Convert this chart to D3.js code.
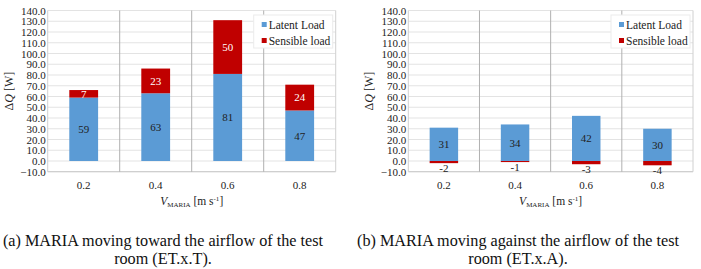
<!DOCTYPE html>
<html>
<head>
<meta charset="utf-8">
<script src="https://cdn.jsdelivr.net/npm/d3@7"></script>
<style>
  html, body { margin: 0; padding: 0; background: #fff; }
  svg { display: block; }
  svg text { font-family: "Liberation Serif", "Times New Roman", serif !important; }
</style>
</head>
<body>
<div id="container"></div>
<script>
const $ = (...args) => document.querySelector(...args);

// data
const speeds = ['0.2', '0.4', '0.6', '0.8'];
const yTicks = d3.range(-10, 141, 10);
const latentT = [59, 63, 81, 47];
const sensibleT = [7, 23, 50, 24];
const latentA = [31, 34, 42, 30];
const sensibleA = [-2, -1, -3, -4];
const seriesNames = ['Latent Load', 'Sensible load'];
const captionsT = ['(a) MARIA moving toward the airflow of the test', 'room (ET.x.T).'];
const captionsA = ['(b) MARIA moving against the airflow of the test', 'room (ET.x.A).'];

const BLUE = '#5b9bd5';
const RED = '#c00000';

const width = 701, height = 269;
const svg = d3.select($('#container'))
    .append('svg')
    .attr('width', width)
    .attr('height', height)
    .attr('viewBox', [0, 0, width, height]);

const drawChart = (left, right, latent, sensible, captions, capX) => {
    const x = d3.scaleBand().domain(speeds).range([left, right]).paddingInner(0).paddingOuter(0);
    const y = d3.scaleLinear().domain([-10, 140]).range([171.75, 10.5]);
    const g = svg.append('g');

    // horizontal grid
    g.append('g').selectAll('line')
        .data(yTicks)
        .join('line')
        .attr('x1', left).attr('x2', right)
        .attr('y1', d => y(d)).attr('y2', d => y(d))
        .attr('stroke', d => d === -10 ? '#bfbfbf' : '#e3e3e3')
        .attr('stroke-width', 1);

    // category separators
    const bounds = speeds.map(s => x(s)).concat([right]);
    g.append('g').selectAll('line')
        .data(bounds)
        .join('line')
        .attr('x1', d => d).attr('x2', d => d)
        .attr('y1', y(140)).attr('y2', y(-10))
        .attr('stroke', (d, i) => (i === 0 || i === bounds.length - 1) ? '#d0d0d0' : '#b0b0b0')
        .attr('stroke-width', 1);

    // y axis labels
    const yAxis = d3.axisLeft(y).tickValues(yTicks).tickFormat(d3.format('.1f')).tickSize(0).tickPadding(2);
    const ya = g.append('g').attr('transform', `translate(${left},0)`).call(yAxis)
        .attr('font-size', 11);
    ya.select('.domain').remove();
    ya.selectAll('text').attr('fill', '#222');

    // x axis labels
    const xAxis = d3.axisBottom(x).tickSize(0).tickPadding(0);
    const xa = g.append('g').attr('transform', `translate(0,181)`).call(xAxis)
        .attr('font-size', 11);
    xa.select('.domain').remove();
    xa.selectAll('text').attr('fill', '#222');

    // bars
    const bw = x.bandwidth() * 0.4;
    const bx = s => x(s) + (x.bandwidth() - bw) / 2;
    g.append('g').selectAll('rect')
        .data(speeds)
        .join('rect')
        .attr('x', bx)
        .attr('width', bw)
        .attr('y', (s, i) => y(latent[i]))
        .attr('height', (s, i) => y(0) - y(latent[i]))
        .attr('fill', BLUE);
    g.append('g').selectAll('rect')
        .data(speeds)
        .join('rect')
        .attr('x', bx)
        .attr('width', bw)
        .attr('y', (s, i) => sensible[i] >= 0 ? y(latent[i] + sensible[i]) : y(0))
        .attr('height', (s, i) => Math.abs(y(0) - y(sensible[i])))
        .attr('fill', RED);

    // data labels
    g.append('g').selectAll('text')
        .data(speeds)
        .join('text')
        .attr('x', s => x(s) + x.bandwidth() / 2)
        .attr('y', (s, i) => y(latent[i] / 2))
        .attr('dy', '0.35em')
        .attr('text-anchor', 'middle')
        .attr('font-size', 11)
        .attr('fill', '#222')
        .text((s, i) => latent[i]);
    g.append('g').selectAll('text')
        .data(speeds)
        .join('text')
        .attr('x', s => x(s) + x.bandwidth() / 2)
        .attr('y', (s, i) => sensible[i] >= 0 ? y(latent[i] + sensible[i] / 2) : y(sensible[i]) + 5)
        .attr('dy', '0.35em')
        .attr('text-anchor', 'middle')
        .attr('font-size', 11)
        .attr('fill', (s, i) => sensible[i] >= 0 ? '#fff' : '#222')
        .text((s, i) => sensible[i]);

    // legend
    const lx = right - 82, ly = 15;
    const lg = g.append('g');
    lg.append('rect').attr('x', lx).attr('y', ly).attr('width', 79).attr('height', 33)
        .attr('fill', '#fff').attr('stroke', '#ececec');
    seriesNames.forEach((name, i) => {
        lg.append('rect').attr('x', lx + 8).attr('y', ly + 7 + i * 16).attr('width', 5).attr('height', 5)
            .attr('fill', i === 0 ? BLUE : RED);
        lg.append('text').attr('x', lx + 15).attr('y', ly + 9.5 + i * 16).attr('dy', '0.35em')
            .attr('font-size', 11.5).attr('fill', '#222').text(name);
    });

    // y title
    const yt = g.append('text')
        .attr('transform', `translate(${left - 35},${(y(140) + y(-10)) / 2}) rotate(-90)`)
        .attr('text-anchor', 'middle')
        .attr('font-size', 12)
        .attr('fill', '#222');
    yt.append('tspan').text('Δ');
    yt.append('tspan').attr('font-style', 'italic').text('Q');
    yt.append('tspan').text(' [W]');

    // x title
    const xt = g.append('text')
        .attr('x', (left + right) / 2)
        .attr('y', 205)
        .attr('text-anchor', 'middle')
        .attr('font-size', 11.5)
        .attr('fill', '#222');
    xt.append('tspan').attr('font-style', 'italic').text('V');
    xt.append('tspan').attr('font-size', 7).attr('dy', 2).text('MARIA');
    xt.append('tspan').attr('dy', -2).text(' [m s');
    xt.append('tspan').attr('font-size', 7).attr('dy', -4).text('-1');
    xt.append('tspan').attr('dy', 4).text(']');

    // caption
    g.append('g').selectAll('text')
        .data(captions)
        .join('text')
        .attr('x', capX)
        .attr('y', (d, i) => 246 + i * 18)
        .attr('text-anchor', 'middle')
        .attr('font-size', 16.2)
        .attr('fill', '#111')
        .text(d => d);
};

drawChart(47.7, 335.7, latentT, sensibleT, captionsT, 163);
drawChart(408.3, 693, latentA, sensibleA, captionsA, 518);
</script>
</body>
</html>
